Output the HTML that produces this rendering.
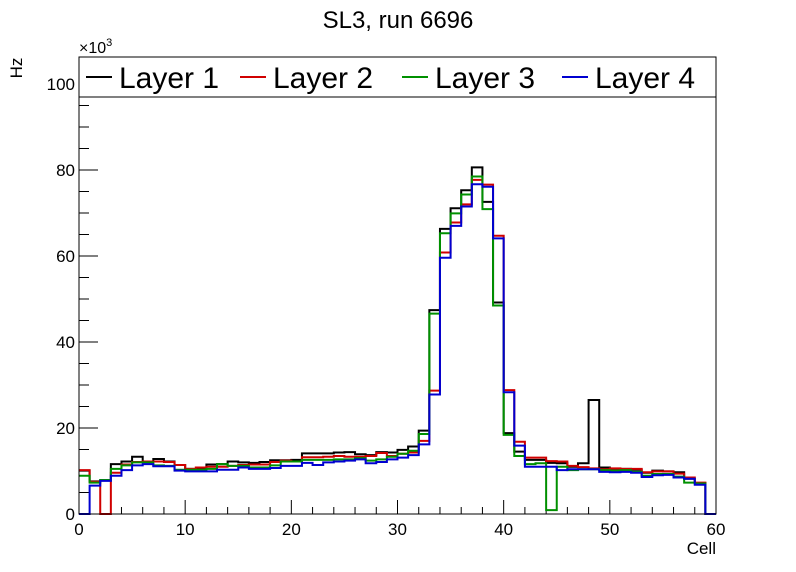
<!DOCTYPE html>
<html><head><meta charset="utf-8"><style>
html,body{margin:0;padding:0;background:#fff;}
svg{display:block;font-family:"Liberation Sans",Arial,sans-serif;}
</style></head><body>
<svg id="chart" width="796" height="572" viewBox="0 0 796 572" xmlns="http://www.w3.org/2000/svg">
<rect x="0" y="0" width="796" height="572" fill="#fff"/>
<text x="398" y="28" font-size="24" text-anchor="middle">SL3, run 6696</text>
<g id="axes"></g>
<g id="series"></g>
<rect x="79" y="57" width="637" height="457" fill="none" stroke="#000" stroke-width="1"/>
<g>
<rect x="79" y="57" width="637" height="40" fill="#fff" stroke="#000" stroke-width="1"/>
<g><line x1="86" y1="77" x2="112" y2="77" stroke="#000" stroke-width="2"/><text x="119" y="88" font-size="30">Layer 1</text></g>
<g><line x1="240" y1="77" x2="266" y2="77" stroke="#d00000" stroke-width="2"/><text x="273" y="88" font-size="30">Layer 2</text></g>
<g><line x1="402" y1="77" x2="428" y2="77" stroke="#009000" stroke-width="2"/><text x="435" y="88" font-size="30">Layer 3</text></g>
<g><line x1="562" y1="77" x2="588" y2="77" stroke="#0000d0" stroke-width="2"/><text x="595" y="88" font-size="30">Layer 4</text></g>
</g>
<text transform="translate(22,68) rotate(-90)" font-size="17" text-anchor="middle">Hz</text>
<text x="79" y="53" font-size="16">×10<tspan font-size="11" dy="-7">3</tspan></text>
<text x="716" y="554" font-size="17" text-anchor="end">Cell</text>
</svg>
<script>
const layer1 = [10.1,7.6,7.8,11.6,12.2,13.3,12.2,12.8,12.2,11.4,10.5,10.5,11.5,11.6,12.2,12.0,11.9,12.1,12.5,12.5,12.6,14.1,14.1,14.1,14.3,14.4,13.9,13.7,14.4,14.3,14.9,15.7,19.4,47.4,66.3,71.1,75.3,80.6,72.6,49.2,18.8,14.5,12.6,12.6,11.9,11.8,11.0,11.8,26.5,10.8,10.5,10.5,10.3,9.6,10.1,9.9,9.7,8.2,7.2,0];
const layer2 = [10.2,7.5,0,9.6,11.5,12.1,12.2,12.2,12.1,11.4,10.5,10.8,11.0,11.0,11.2,11.4,11.5,11.5,12.1,12.4,12.2,13.2,13.2,13.3,13.5,13.3,13.3,13.5,14.2,13.5,14.0,14.3,17.0,28.7,60.8,67.8,72.0,77.7,76.6,64.7,28.8,16.8,13.1,13.1,12.3,12.2,11.2,10.9,10.6,10.4,10.6,10.5,10.5,9.7,9.9,9.9,9.4,8.5,7.3,0];
const layer3 = [8.9,7.3,7.9,10.5,11.3,12.0,12.0,11.3,11.2,10.3,10.3,10.3,10.5,11.6,11.2,11.2,10.8,10.8,11.3,12.2,12.2,12.6,12.6,12.6,12.7,12.7,13.0,12.4,12.7,13.3,14.0,14.7,18.6,46.6,65.3,69.9,74.3,78.5,70.9,48.5,18.4,13.5,11.6,11.8,0.9,11.0,10.2,10.4,10.4,10.2,10.1,10.2,9.8,8.9,9.3,9.3,8.7,7.3,7.1,0];
const layer4 = [0,6.6,7.7,8.9,10.2,11.3,11.6,11.1,11.1,10.1,9.9,9.9,9.9,10.3,10.3,10.8,10.5,10.5,10.7,11.2,11.2,11.9,11.4,12.0,12.2,12.4,12.7,11.8,12.1,12.7,13.1,13.7,16.2,27.8,59.6,67.0,71.5,76.7,76.1,64.1,28.3,15.9,11.0,11.0,11.0,10.2,10.4,10.4,10.4,9.8,9.7,9.8,9.6,8.6,9.0,9.1,8.5,8.2,6.8,0];
const seriesNames = ["layer-1","layer-2","layer-3","layer-4"];
const seriesColors = ["#000","#d00000","#009000","#0000d0"];
const xTickLabels = ["0","10","20","30","40","50","60"];
const yTickLabels = ["0","20","40","60","80","100"];

const X0=79, X1=716, Y0=514, YT=57, XMAX=60, YMAX=(514-57)/4.3;
function xs(v){return X0+(v/XMAX)*(X1-X0);}
function ys(v){return Y0-(v/YMAX)*(Y0-YT);}
const NS="http://www.w3.org/2000/svg";
const axes=document.getElementById('axes');
function mk(tag,attrs,parent){const e=document.createElementNS(NS,tag);for(const k in attrs)e.setAttribute(k,attrs[k]);parent.appendChild(e);return e;}
for(let v=0;v<=XMAX;v+=2){
  const major=v%10===0;
  const t=mk('line',{x1:xs(v),x2:xs(v),y1:Y0,y2:Y0-(major?14:7),stroke:'#000','stroke-width':1},axes);
  
  
}
xTickLabels.forEach(function(l){
  const v=parseFloat(l);
  const t=mk('text',{x:xs(v),y:535,'font-size':17,'text-anchor':'middle'},axes);
  t.textContent=l;
  
  
});
for(let v=0;v<=YMAX;v+=5){
  const major=v%20===0;
  const t=mk('line',{x1:X0,x2:X0+(major?19:10),y1:ys(v),y2:ys(v),stroke:'#000','stroke-width':1},axes);
  
  
}
yTickLabels.forEach(function(l){
  const v=parseFloat(l);
  const t=mk('text',{x:75,y:ys(v)+6,'font-size':17,'text-anchor':'end'},axes);
  t.textContent=l;
  
  
});
const sg=document.getElementById('series');
[layer1,layer2,layer3,layer4].forEach(function(arr,i){
  let d='M'+xs(0)+','+ys(arr[0]);
  for(let b=0;b<arr.length;b++){
    d+=' L'+xs(b)+','+ys(arr[b])+' L'+xs(b+1)+','+ys(arr[b]);
  }
  const p=mk('path',{d:d,fill:'none',stroke:seriesColors[i],'stroke-width':2},sg);
  
  
});
</script>
</body></html>
